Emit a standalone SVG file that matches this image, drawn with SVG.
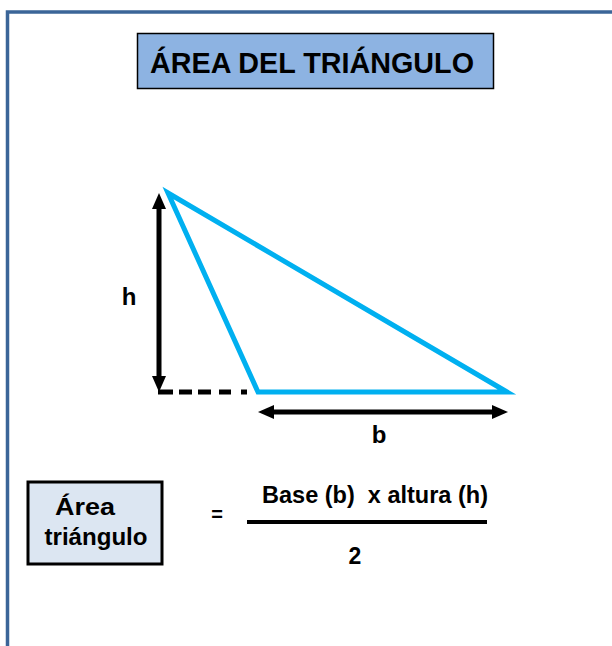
<svg xmlns="http://www.w3.org/2000/svg" width="612" height="646" viewBox="0 0 612 646">
  <style>
    .t { font-family: "Liberation Sans", Arial, sans-serif; font-weight: bold; fill: #000; }
    .arrow { stroke: #000; stroke-width: 5; fill: none; }
  </style>
  <defs>
    <marker id="ah" viewBox="0 0 16 14" refX="6" refY="7" markerWidth="16" markerHeight="14" markerUnits="userSpaceOnUse" orient="auto-start-reverse">
      <path d="M0,0 L16,7 L0,14 z" fill="#000"/>
    </marker>
  </defs>
  <rect width="612" height="646" fill="#fff"/>
  <g id="frame">
    <path d="M7.5,646 L7.5,12 L612,12" fill="none" stroke="#3b6598" stroke-width="3.5"/>
  </g>
  <g id="title">
    <rect x="137.5" y="33.5" width="356" height="55" fill="#8db3e2" stroke="#000" stroke-width="1.5"/>
    <text class="t" x="150" y="73" font-size="29" textLength="324" lengthAdjust="spacingAndGlyphs">ÁREA DEL TRIÁNGULO</text>
  </g>
  <g id="triangle">
    <polygon points="168,193 258,392 507,392" fill="none" stroke="#00b0f0" stroke-width="5" stroke-linejoin="miter"/>
  </g>
  <g id="connectors">
    <line class="arrow" x1="159" y1="203" x2="159" y2="382" marker-start="url(#ah)" marker-end="url(#ah)"/>
    <line class="arrow" x1="268" y1="412" x2="498" y2="412" marker-start="url(#ah)" marker-end="url(#ah)"/>
    <line x1="158" y1="392" x2="249" y2="392" stroke="#000" stroke-width="5" stroke-dasharray="15 6 13 6 13 8 12 10 6"/>
  </g>
  <g id="label-h">
    <text class="t" x="129" y="305" font-size="24" text-anchor="middle">h</text>
  </g>
  <g id="label-b">
    <text class="t" x="379" y="443" font-size="24" text-anchor="middle">b</text>
  </g>
  <g id="area-box">
    <rect x="28" y="482" width="134" height="82" fill="#dce6f2" stroke="#000" stroke-width="3"/>
    <text class="t" x="85" y="515" font-size="23" text-anchor="middle" textLength="60" lengthAdjust="spacingAndGlyphs">Área</text>
    <text class="t" x="96" y="545" font-size="23" text-anchor="middle" textLength="103" lengthAdjust="spacingAndGlyphs">triángulo</text>
  </g>
  <g id="equals">
    <text class="t" x="217" y="521" font-size="20" text-anchor="middle">=</text>
  </g>
  <g id="formula">
    <text class="t" x="262" y="503" font-size="23" textLength="226" lengthAdjust="spacingAndGlyphs" xml:space="preserve">Base (b)  x altura (h)</text>
    <line x1="247" y1="522" x2="487" y2="522" stroke="#000" stroke-width="4"/>
    <text class="t" x="355" y="564" font-size="23" text-anchor="middle">2</text>
  </g>
</svg>
